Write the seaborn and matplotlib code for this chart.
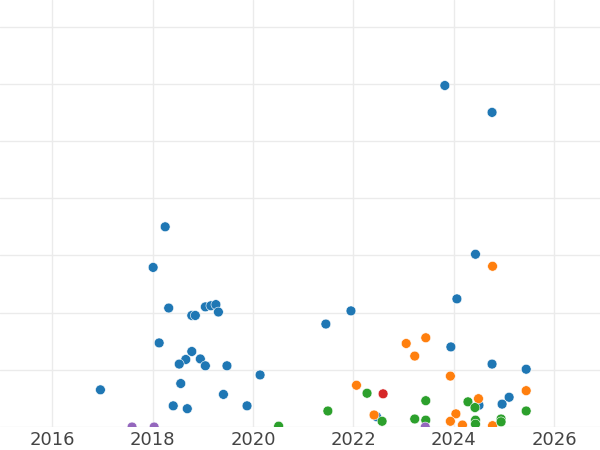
import numpy as np
import pandas as pd
import matplotlib
matplotlib.use("Agg")
import matplotlib.pyplot as plt
import seaborn as sns

# ---------------------------------------------------------------------------
# Data (decimal year, value) per group
# ---------------------------------------------------------------------------
GROUPS = ["A", "B", "C", "D", "E"]
PALETTE = ["#1f77b4", "#ff7f0e", "#2ca02c", "#d62728", "#9467bd"]

a_year = [2016.96, 2018.01, 2018.25, 2018.32, 2018.13, 2018.78, 2018.85, 2019.05,
          2019.16, 2019.26, 2019.31, 2018.78, 2018.66, 2018.53, 2018.95, 2019.05,
          2019.48, 2020.14, 2018.56, 2019.41, 2018.41, 2018.69, 2019.88, 2021.45,
          2021.95, 2023.82, 2024.76, 2024.43, 2024.06, 2023.94, 2024.76, 2025.44,
          2025.10, 2024.96, 2024.50, 2022.46]
a_value = [6.5, 27.9, 35.0, 20.8, 14.7, 19.5, 19.5, 21.0,
           21.2, 21.4, 20.1, 13.2, 11.8, 11.0, 11.9, 10.7,
           10.7, 9.1, 7.6, 5.7, 3.7, 3.2, 3.7, 18.0,
           20.3, 59.7, 55.0, 30.2, 22.4, 14.0, 11.0, 10.1,
           5.2, 4.0, 3.8, 1.8]

b_year = [2022.06, 2023.05, 2023.44, 2023.22, 2023.93, 2024.77, 2025.44,
          2024.49, 2024.04, 2022.41, 2023.93, 2024.17, 2024.77]
b_value = [7.3, 14.6, 15.6, 12.4, 8.9, 28.1, 6.35,
           4.95, 2.3, 2.1, 1.0, 0.35, 0.23]

c_year = [2020.51, 2021.49, 2022.27, 2022.57, 2023.44, 2023.22, 2023.44,
          2024.28, 2024.42, 2024.43, 2024.43, 2024.94, 2024.94, 2025.44]
c_value = [0.15, 2.8, 5.9, 1.0, 4.6, 1.4, 1.2,
           4.4, 3.4, 1.2, 0.5, 1.4, 0.9, 2.8]

d_year = [2022.59]
d_value = [5.8]

e_year = [2017.59, 2018.03, 2023.43]
e_value = [0.0, 0.0, 0.0]

X_TICKS = [2016, 2018, 2020, 2022, 2024, 2026]
Y_GRID = [0, 10, 20, 30, 40, 50, 60, 70]


df = pd.concat([
    pd.DataFrame({"year": a_year, "value": a_value, "group": "A"}),
    pd.DataFrame({"year": b_year, "value": b_value, "group": "B"}),
    pd.DataFrame({"year": c_year, "value": c_value, "group": "C"}),
    pd.DataFrame({"year": d_year, "value": d_value, "group": "D"}),
    pd.DataFrame({"year": e_year, "value": e_value, "group": "E"}),
], ignore_index=True)

sns.set_theme(style="whitegrid", rc={"grid.color": "#ebebeb", "grid.linewidth": 1.0})

fig = plt.figure(figsize=(6, 4.5), dpi=100)
ax = fig.add_axes([0, 23 / 450, 1, 427 / 450])

sns.scatterplot(
    data=df, x="year", y="value", hue="group", hue_order=GROUPS,
    palette=PALETTE, s=50, edgecolor="white", linewidth=0.4,
    legend=False, ax=ax, zorder=3,
)

ax.set_xlim(2014.96, 2026.91)
ax.set_ylim(0, 74.65)
ax.set_xticks(X_TICKS)
ax.set_yticks(Y_GRID)
ax.set_yticklabels([])
ax.set_xlabel("")
ax.set_ylabel("")
ax.tick_params(axis="x", labelsize=13, labelcolor="#444444", length=0, pad=3)
ax.tick_params(axis="y", length=0)
for spine in ax.spines.values():
    spine.set_visible(False)

fig.savefig("out.png", dpi=100)
